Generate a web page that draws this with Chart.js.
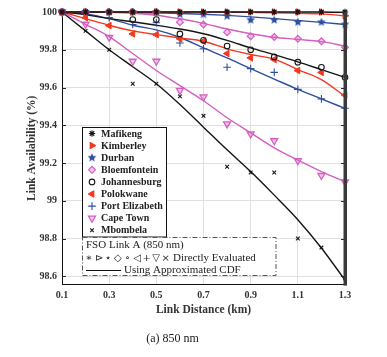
<!DOCTYPE html>
<html>
<head>
<meta charset="utf-8">
<title>Link availability vs distance (850 nm)</title>
<script src="https://cdn.jsdelivr.net/npm/chart.js@4.4.0/dist/chart.umd.min.js"></script>
<style>
  html, body { margin: 0; padding: 0; background: #fff; }
  #wrap { width: 387px; height: 357px; position: relative; }
</style>
</head>
<body>
<div id="wrap"><canvas id="chart" width="387" height="357"></canvas></div>
<script>
// link distance (km) at which each site was evaluated
const distances = [0.1, 0.2, 0.3, 0.4, 0.5, 0.6, 0.7, 0.8, 0.9, 1.0, 1.1, 1.2, 1.3];
const xTicks = [0.1, 0.3, 0.5, 0.7, 0.9, 1.1, 1.3];
const yTicks = [98.6, 98.8, 99, 99.2, 99.4, 99.6, 99.8, 100];

const cities = ['Mafikeng', 'Kimberley', 'Durban', 'Bloemfontein', 'Johannesburg',
  'Polokwane', 'Port Elizabeth', 'Cape Town', 'Mbombela'];

// link availability (%) — directly evaluated (markers)
const mafikengDirect     = [100, 100, 100, 100, 100, 100, 100, 100, 100, 100, 100, 100, 100];
const kimberleyDirect    = [100, 100, 100, 100, 100, 100, 100, 100, 100, 100, 100, 100, 99.98];
const durbanDirect       = [100, 100, 100, 100, 100, 99.987, 99.987, 99.978, 99.957, 99.957, 99.946, 99.946, 99.934];
const bloemfonteinDirect = [100, 100, 100, 100, 100, 99.946, 99.934, 99.893, 99.872, 99.868, 99.858, 99.845, 99.813];
const johannesburgDirect = [100, 100, 100, 99.96, 99.96, 99.884, 99.85, 99.82, 99.80, 99.762, 99.734, 99.707, 99.654];
const polokwaneDirect    = [100, 99.97, 99.928, 99.884, 99.88, 99.858, 99.845, 99.78, 99.757, 99.748, 99.69, 99.68, 99.56];
const portElizDirect     = [100, 99.99, 99.97, 99.934, 99.943, 99.836, 99.805, 99.707, 99.70, 99.68, 99.59, 99.54, 99.49];
const capeTownDirect     = [100, 99.935, 99.866, 99.739, 99.739, 99.585, 99.55, 99.407, 99.354, 99.318, 99.212, 99.134, 99.10];
const mbombelaDirect     = [100, 99.90, 99.80, 99.62, 99.62, 99.553, 99.45, 99.18, 99.15, 99.15, 98.80, 98.752, 98.59];

// link availability (%) — using the approximated CDF (lines)
const mafikengApprox     = [100, 100, 100, 100, 100, 100, 100, 100, 100, 100, 100, 100, 99.998];
const kimberleyApprox    = [100, 100, 100, 100, 100, 100, 100, 100, 99.998, 99.996, 99.993, 99.99, 99.98];
const durbanApprox       = [100, 100, 100, 99.998, 99.995, 99.992, 99.988, 99.982, 99.974, 99.965, 99.955, 99.945, 99.934];
const bloemfonteinApprox = [100, 100, 99.998, 99.993, 99.983, 99.964, 99.94, 99.91, 99.885, 99.866, 99.855, 99.843, 99.82];
const johannesburgApprox = [100, 99.985, 99.965, 99.948, 99.93, 99.91, 99.885, 99.85, 99.81, 99.774, 99.736, 99.695, 99.654];
const polokwaneApprox    = [100, 99.965, 99.93, 99.9, 99.88, 99.862, 99.845, 99.805, 99.775, 99.75, 99.695, 99.642, 99.553];
const portElizApprox     = [100, 99.99, 99.965, 99.93, 99.905, 99.865, 99.81, 99.757, 99.70, 99.645, 99.59, 99.54, 99.489];
const capeTownApprox     = [100, 99.935, 99.87, 99.78, 99.69, 99.61, 99.53, 99.44, 99.36, 99.28, 99.215, 99.155, 99.10];
const mbombelaApprox     = [100, 99.90, 99.80, 99.71, 99.62, 99.51, 99.39, 99.27, 99.155, 99.03, 98.90, 98.75, 98.58];

const directSets = [mafikengDirect, kimberleyDirect, durbanDirect, bloemfonteinDirect, johannesburgDirect,
  polokwaneDirect, portElizDirect, capeTownDirect, mbombelaDirect];
const approxSets = [mafikengApprox, kimberleyApprox, durbanApprox, bloemfonteinApprox, johannesburgApprox,
  polokwaneApprox, portElizApprox, capeTownApprox, mbombelaApprox];

const BLACK = '#151515', RED = '#f2381f', BLUE = '#2d4f9e', MAGENTA = '#d35fbf';
const MAGENTA_FILL = 'rgba(211,95,191,0.35)';

// filled 5-point star, used for Durban
function makeStar(color, r) {
  const c = document.createElement('canvas');
  const s = Math.ceil(r * 2 + 2);
  c.width = s; c.height = s;
  const g = c.getContext('2d');
  g.beginPath();
  for (let i = 0; i < 10; i++) {
    const rad = i % 2 === 0 ? r : r * 0.45;
    const a = -Math.PI / 2 + i * Math.PI / 5;
    const px = s / 2 + rad * Math.cos(a), py = s / 2 + rad * Math.sin(a);
    if (i === 0) g.moveTo(px, py); else g.lineTo(px, py);
  }
  g.closePath();
  g.fillStyle = color;
  g.fill();
  return c;
}
const durbanStar = makeStar(BLUE, 4.6);

const styles = [
  { line: BLACK,   stroke: BLACK,   fill: BLACK,        point: 'star',     rotation: 0,   radius: 3.2, bw: 1.1 },
  { line: RED,     stroke: RED,     fill: RED,          point: 'triangle', rotation: 90,  radius: 3.8, bw: 1 },
  { line: BLUE,    stroke: BLUE,    fill: BLUE,         point: durbanStar, rotation: 0,   radius: 4,   bw: 0 },
  { line: MAGENTA, stroke: MAGENTA, fill: MAGENTA_FILL, point: 'rectRot',  rotation: 0,   radius: 3.4, bw: 1.2 },
  { line: BLACK,   stroke: BLACK,   fill: 'rgba(0,0,0,0)', point: 'circle', rotation: 0, radius: 2.8, bw: 1.1 },
  { line: RED,     stroke: RED,     fill: RED,          point: 'triangle', rotation: 270, radius: 3.8, bw: 1 },
  { line: BLUE,    stroke: BLUE,    fill: BLUE,         point: 'cross',    rotation: 0,   radius: 3.8, bw: 1.1 },
  { line: MAGENTA, stroke: MAGENTA, fill: MAGENTA_FILL, point: 'triangle', rotation: 180, radius: 4,   bw: 1.3 },
  { line: BLACK,   stroke: BLACK,   fill: BLACK,        point: 'crossRot', rotation: 0,   radius: 2.6, bw: 1.1 },
];

const toXY = arr => arr.map((v, i) => ({ x: distances[i], y: v }));

const datasets = [];
cities.forEach((name, i) => {
  const st = styles[i];
  datasets.push({
    label: name,
    data: toXY(directSets[i]),
    showLine: false,
    pointStyle: st.point,
    rotation: st.rotation,
    pointRadius: st.radius,
    pointBorderWidth: st.bw,
    pointBorderColor: st.stroke,
    pointBackgroundColor: st.fill,
    clip: false,
    order: 0,
  });
  datasets.push({
    label: name + ' (approx.)',
    data: toXY(approxSets[i]),
    borderColor: st.line,
    borderWidth: 1.4,
    pointRadius: 0,
    fill: false,
    cubicInterpolationMode: 'monotone',
    clip: false,
    order: 1,
  });
});

const SERIF = '"Liberation Serif", "Times New Roman", serif';
const tickFont = { family: SERIF, size: 10, weight: 'bold' };
const axisTitleFont = { family: SERIF, size: 11.5, weight: 'bold' };

// right frame, inner ticks and the two legend boxes
const framePlugin = {
  id: 'frame',
  afterDraw(chart) {
    const { ctx, chartArea: a, scales } = chart;
    ctx.save();
    ctx.strokeStyle = '#222';
    ctx.lineWidth = 1;
    yTicks.forEach(v => {
      const py = Math.round(scales.y.getPixelForValue(v)) + 0.5;
      ctx.beginPath();
      ctx.moveTo(a.left, py); ctx.lineTo(a.left + 4, py);
      ctx.moveTo(a.right - 4, py); ctx.lineTo(a.right, py);
      ctx.stroke();
    });
    ctx.fillStyle = '#3a3a3a';
    ctx.fillRect(a.right - 1.5, a.top, 3.5, a.bottom - a.top + 1);

    // series legend
    const lx = 82.5, ly = 127.5, lw = 84, lh = 109.5;
    ctx.fillStyle = '#fff';
    ctx.fillRect(lx, ly, lw, lh);
    ctx.strokeStyle = '#111';
    ctx.strokeRect(lx, ly, lw, lh);
    ctx.font = 'bold 10px ' + SERIF;
    ctx.textBaseline = 'middle';
    ctx.textAlign = 'left';
    cities.forEach((name, i) => {
      const st = styles[i];
      const ry = 133.5 + i * 12.1;
      ctx.save();
      ctx.fillStyle = st.fill;
      ctx.strokeStyle = st.stroke;
      ctx.lineWidth = st.bw;
      Chart.helpers.drawPoint(ctx, { pointStyle: st.point, rotation: st.rotation, radius: st.radius, borderWidth: st.bw }, 92, ry);
      ctx.restore();
      ctx.fillStyle = '#222';
      ctx.fillText(name, 101, ry + 0.5);
    });

    // FSO link legend
    const fx = 82.5, fy = 237.5, fw = 193.5, fh = 38;
    ctx.fillStyle = '#fff';
    ctx.fillRect(fx, fy, fw, fh);
    ctx.strokeStyle = '#555';
    ctx.setLineDash([5, 2, 1, 2]);
    ctx.strokeRect(fx, fy, fw, fh);
    ctx.setLineDash([]);
    ctx.fillStyle = '#222';
    ctx.font = '11px ' + SERIF;
    ctx.fillText('FSO Link A (850 nm)', 86, 245.5);
    const symbols = ['∗', '⊳', '⋆', '◇', '∘', '◁', '+', '▽', '×'];
    ctx.textAlign = 'center';
    ctx.font = '10px "DejaVu Serif", serif';
    symbols.forEach((s, i) => ctx.fillText(s, 89 + i * 9.6, 258));
    ctx.textAlign = 'left';
    ctx.font = '11px ' + SERIF;
    ctx.fillText('Directly Evaluated', 173, 258);
    ctx.strokeStyle = '#111';
    ctx.lineWidth = 1;
    ctx.beginPath();
    ctx.moveTo(86, 270.5); ctx.lineTo(121, 270.5);
    ctx.stroke();
    ctx.fillText('Using Approximated CDF', 124, 270.5);
    ctx.restore();
  }
};

new Chart(document.getElementById('chart'), {
  type: 'line',
  data: { datasets },
  plugins: [framePlugin],
  options: {
    responsive: false,
    animation: false,
    devicePixelRatio: 1,
    layout: { padding: { left: 0, right: 42, top: 12, bottom: 0 } },
    plugins: {
      legend: { display: false },
      tooltip: { enabled: false },
      title: {
        display: true,
        position: 'bottom',
        text: '(a) 850 nm',
        color: '#222',
        font: { family: SERIF, size: 12, weight: 'normal' },
        padding: { top: 13, bottom: 11 },
      },
    },
    scales: {
      x: {
        type: 'linear',
        min: 0.1,
        max: 1.3,
        afterBuildTicks: s => { s.ticks = xTicks.map(v => ({ value: v })); },
        afterFit: s => { s.height = 34; },
        ticks: { callback: v => v.toFixed(1), font: tickFont, color: '#333', padding: 5, maxRotation: 0, autoSkip: false },
        grid: { color: '#e0e0e0', drawTicks: false },
        border: { color: '#111', width: 1 },
        title: { display: true, text: 'Link Distance (km)', font: axisTitleFont, color: '#333', padding: { top: 0, bottom: 2 } },
      },
      y: {
        type: 'linear',
        min: 98.556,
        max: 100,
        afterBuildTicks: s => { s.ticks = yTicks.map(v => ({ value: v })); },
        afterFit: s => { s.width = 62; },
        ticks: { callback: v => String(Math.round(v * 10) / 10), font: tickFont, color: '#333', padding: 5 },
        grid: { color: '#e0e0e0', drawTicks: false },
        border: { color: '#111', width: 1 },
        title: { display: true, text: 'Link Availability (%)', font: axisTitleFont, color: '#333', padding: { top: 25, bottom: 0 } },
      },
    },
  },
});
</script>
</body>
</html>
